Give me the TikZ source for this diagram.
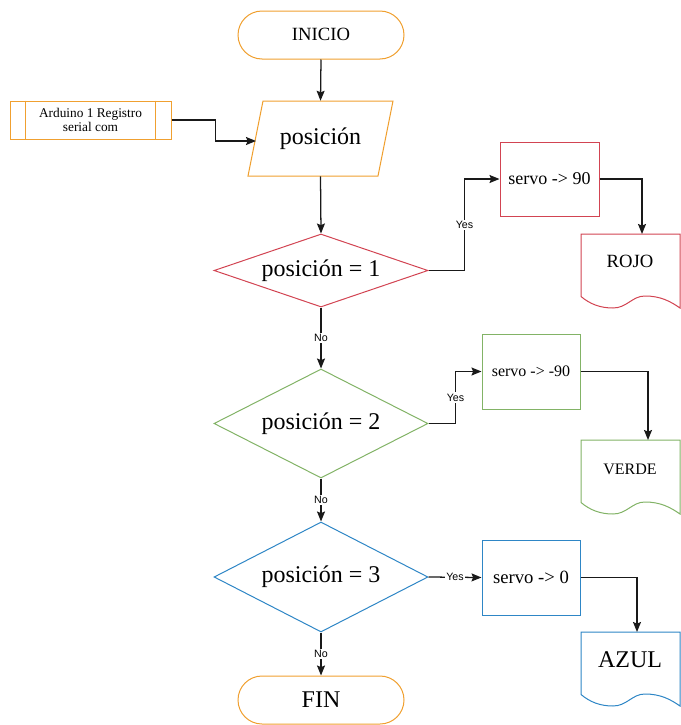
\documentclass[tikz,border=0pt]{standalone}
\usepackage{fontspec}
\setmainfont{Liberation Serif}
\newfontfamily\lblfont{Liberation Sans}
\usetikzlibrary{shapes.geometric,shapes.misc,arrows.meta}

\definecolor{flowOrange}{HTML}{F0A030}
\definecolor{flowRed}{HTML}{D24452}
\definecolor{flowGreen}{HTML}{82B366}
\definecolor{flowBlue}{HTML}{2E86C6}

% document symbol with a wavy lower edge; #1 = top y, #2 = colour
\newcommand\docwave[2]{%
  \draw[#2, line width=0.75pt, fill=white]
    (581,#1) -- (680,#1) -- (680,#1+74)
    .. controls (670,#1+67) and (660,#1+62) .. (645,#1+62)
    .. controls (632,#1+62) and (627,#1+74) .. (613,#1+74)
    .. controls (600,#1+74) and (590,#1+70) .. (581,#1+62.5) -- cycle;}

\begin{document}
\begin{tikzpicture}[x=0.75pt,y=-0.75pt,
  base/.style={draw, line width=0.75pt, fill=white, inner sep=0pt, align=center},
  terminal/.style={base, rounded rectangle, draw=flowOrange,
    minimum width=124.5pt, minimum height=36pt},
  predef/.style={base, rectangle, draw=flowOrange,
    minimum width=120.75pt, minimum height=28.5pt,
    font=\fontsize{10}{10.5}\selectfont},
  decision/.style={base, diamond, minimum width=160.5pt,
    font=\fontsize{18}{20}\selectfont},
  process/.style={base, rectangle, minimum width=74pt, minimum height=56pt},
  doctext/.style={inner sep=0pt},
  conn/.style={draw=black!90, line width=0.95pt,
    -{Stealth[length=7.5pt,width=6pt,inset=1.2pt]}},
  elabel/.style={font=\lblfont\fontsize{8}{9}\selectfont, fill=white, inner sep=1pt}
]
\useasboundingbox (0,0) rectangle (681,725);

% main column
\node[terminal, font=\fontsize{14}{16}\selectfont] (start) at (321,35) {\raisebox{1.5pt}{INICIO}};

% input parallelogram
\draw[flowOrange, line width=0.75pt, fill=white]
  (263,101) -- (393,101) -- (378,176) -- (248,176) -- cycle;
\node[inner sep=0pt, minimum width=97.5pt, minimum height=56.25pt,
  font=\fontsize{18}{20}\selectfont] (pos) at (320.5,138.5) {posición};

\node[predef] (ard) at (90.5,120) {Arduino 1 Registro\\serial com};
\draw[flowOrange, line width=0.75pt]
  ([xshift=12pt]ard.north west) -- ([xshift=12pt]ard.south west)
  ([xshift=-12pt]ard.north east) -- ([xshift=-12pt]ard.south east);

\node[decision, draw=flowRed, aspect=2.93, minimum height=54.75pt] (d1) at (321,270.5) {posición = 1};
\node[decision, draw=flowGreen, aspect=1.96, minimum height=81.75pt] (d2) at (321,423.5) {posición = 2};
\node[decision, draw=flowBlue, aspect=1.95, minimum height=82.5pt] (d3) at (321,577) {posición = 3};
\node[terminal, font=\fontsize{18}{20}\selectfont] (stop) at (321,700) {FIN};

% actions
\node[process, draw=flowRed, minimum width=74.25pt, minimum height=55.5pt,
  font=\fontsize{13.5}{15}\selectfont] (s1) at (549.5,179) {servo -> 90};
\node[process, draw=flowGreen, minimum width=73.5pt, minimum height=56.25pt,
  font=\fontsize{12}{14}\selectfont] (s2) at (531,371.5) {servo -> -90};
\node[process, draw=flowBlue, minimum width=73.5pt, minimum height=56.25pt,
  font=\fontsize{14}{16}\selectfont] (s3) at (531,577.5) {servo -> 0};

% output documents
\docwave{234}{flowRed}
\docwave{440}{flowGreen}
\docwave{632}{flowBlue}
\node[doctext, font=\fontsize{14}{16}\selectfont] (rojo) at (630,261.5) {ROJO};
\node[doctext, font=\fontsize{12}{14}\selectfont] (verde) at (630,469) {VERDE};
\node[doctext, font=\fontsize{18}{20}\selectfont] (azul) at (630,660) {AZUL};

\coordinate (posin) at (256,141);
\coordinate (rojoin) at (642,234);
\coordinate (verdein) at (648,440);
\coordinate (azulin) at (637,632);

% connectors
\draw[conn] (start.south) -- (pos.north);
\draw[conn] (ard.east) -- ++(44,0) |- (posin);
\draw[conn] (pos.south) -- (d1.north);

\draw[conn] (d1.east) -- ++(36,0) |- node[elabel, pos=0.25] {Yes} (s1.west);
\draw[conn] (s1.east) -| (rojoin);
\draw[conn] (d1.south) -- node[elabel] {No} (d2.north);

\draw[conn] (d2.east) -- ++(27,0) |- node[elabel, pos=0.25] {Yes} (s2.west);
\draw[conn] (s2.east) -| (verdein);
\draw[conn] (d2.south) -- node[elabel] {No} (d3.north);

\draw[conn] (d3.east) -- node[elabel] {Yes} (s3.west);
\draw[conn] (s3.east) -| (azulin);
\draw[conn] (d3.south) -- node[elabel] {No} (stop.north);
\end{tikzpicture}
\end{document}
